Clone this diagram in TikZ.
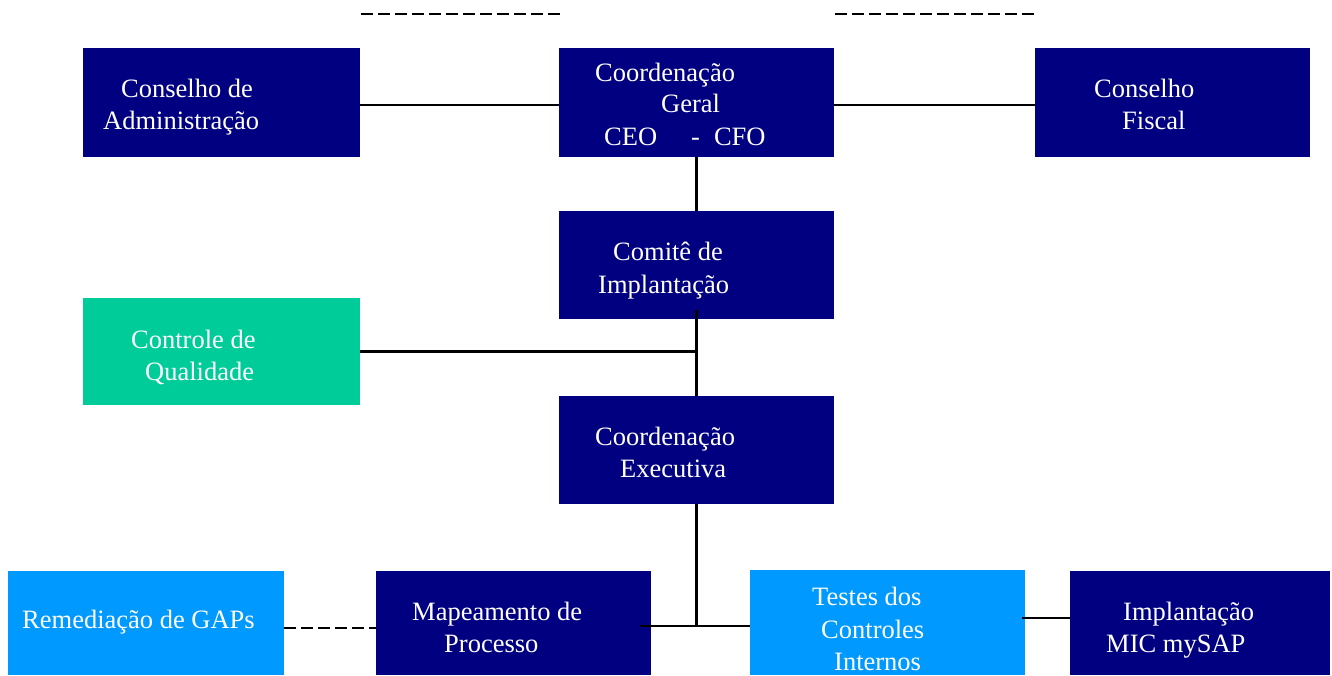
\documentclass[tikz,border=0pt]{standalone}
\usepackage{fontspec}
\setmainfont{Liberation Serif}
\definecolor{navy}{HTML}{000080}
\definecolor{qgreen}{HTML}{00CC99}
\definecolor{lblue}{HTML}{0099FF}
\begin{document}
\begin{tikzpicture}[x=1pt,y=-1pt,
  box/.style={draw=none,fill=navy,inner sep=0,minimum width=275pt,minimum height=108pt},
  txt/.style={anchor=base west,inner sep=0,text=white,font=\fontsize{26.5}{32}\selectfont},
  conn/.style={line width=2.3pt,black},
  thin/.style={line width=1.2pt,black},
  dline/.style={line width=2pt,black,dash pattern=on 11.5pt off 5.5pt}]
\useasboundingbox (0,0) rectangle (1332,676);
% boxes
\node[box,minimum width=277pt,minimum height=109pt] (adm) at (221.5,102.5) {};
\node[box,minimum height=109pt] (geral) at (696.5,102.5) {};
\node[box,minimum height=109pt] (fiscal) at (1172.5,102.5) {};
\node[box] (comite) at (696.5,265) {};
\node[box,fill=qgreen,minimum width=277pt,minimum height=107pt] (qual) at (221.5,351.5) {};
\node[box] (exec) at (696.5,450) {};
\node[box,fill=lblue,minimum width=276pt,minimum height=104pt] (gaps) at (146,623) {};
\node[box,minimum height=104pt] (mapa) at (513.5,623) {};
\node[box,fill=lblue,minimum height=105pt] (testes) at (887.5,622.5) {};
\node[box,minimum width=260pt,minimum height=104pt] (mic) at (1200,623) {};
% top dashed lines
\coordinate (d1a) at (361,14); \coordinate (d1b) at (560,14);
\coordinate (d2a) at (835,14); \coordinate (d2b) at (1035,14);
\draw[dline] (d1a) -- (d1b);
\draw[dline] (d2a) -- (d2b);
% connectors
\draw[conn] ([yshift=-2.5pt]adm.east) -- ([yshift=-2.5pt]geral.west);
\draw[conn] ([yshift=-2.5pt]geral.east) -- ([yshift=-2.5pt]fiscal.west);
\draw[conn] (geral.south) -- (comite.north);
\draw[conn] ([yshift=9pt]comite.south) -- (exec.north);
\draw[conn] (qual.east) -- (qual.east -| comite.south);
\coordinate (j) at (exec.south |- 0,626);
\draw[conn] (exec.south) -- (j);
\draw[conn] ([xshift=-11pt,yshift=-3pt]mapa.east) -- ([yshift=-3.5pt]testes.west);
\draw[conn,dash pattern=on 11.5pt off 5.5pt] ([yshift=-5pt]gaps.east) -- ([yshift=-5pt]mapa.west);
\draw[thin] ([xshift=-3pt,yshift=4.5pt]testes.east) -- ([yshift=5pt]mic.west);
% texts
\node[txt] at (121,98) {Conselho de};
\node[txt] at (103,130) {Administração};
\node[txt] at (595,82) {Coordenação};
\node[txt] at (661,113) {Geral};
\node[txt] at (604,146) {CEO\hspace{34pt}-\hspace{14pt}CFO};
\node[txt] at (1094,98) {Conselho};
\node[txt] at (1122,130) {Fiscal};
\node[txt] at (613,261) {Comitê de};
\node[txt] at (598,293) {Implantação};
\node[txt] at (131,348) {Controle de};
\node[txt] at (145,380) {Qualidade};
\node[txt] at (595,445) {Coordenação};
\node[txt] at (620,477) {Executiva};
\node[txt] at (22,628) {Remediação de GAPs};
\node[txt] at (412,620) {Mapeamento de};
\node[txt] at (444,652) {Processo};
\node[txt] at (812,605) {Testes dos};
\node[txt] at (821,638) {Controles};
\node[txt] at (834,670) {Internos};
\node[txt] at (1123,620) {Implantação};
\node[txt] at (1106,652) {MIC mySAP};
\end{tikzpicture}
\end{document}
